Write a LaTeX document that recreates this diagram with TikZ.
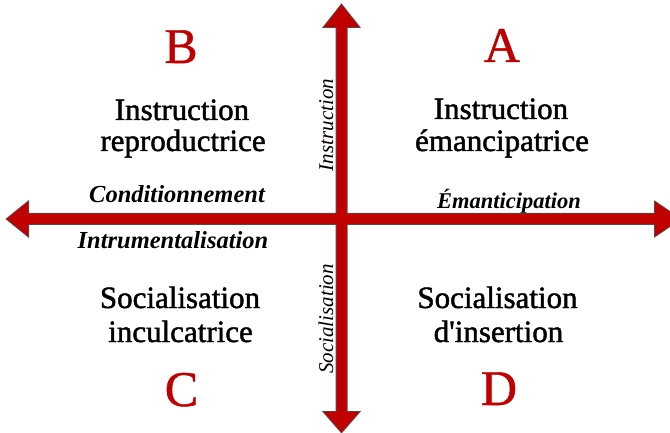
\documentclass[tikz,border=0pt]{standalone}
\usepackage{fontspec}
\setmainfont{Liberation Serif}[Ligatures=TeXOff]
\newcommand\heavytxt[1]{\special{pdf:literal 2 Tr 0.45 w}#1\special{pdf:literal 0 Tr}}
\definecolor{arrowred}{HTML}{C00000}
\definecolor{arrowedge}{HTML}{5E4646}
\begin{document}
\begin{tikzpicture}[x=1pt,y=-1pt,
  bigletter/.style={text=arrowred,inner sep=0pt,anchor=base,font=\fontsize{50}{50}\selectfont},
  maintext/.style={inner sep=0pt,anchor=base,font=\fontsize{31}{31}\selectfont},
  axislabel/.style={inner sep=0pt,anchor=base,font=\fontsize{24.5}{24.5}\selectfont\bfseries\itshape},
  vlabel/.style={inner sep=0pt,anchor=base,rotate=90,font=\fontsize{21}{21}\selectfont\itshape},
  arrowshape/.style={fill=arrowred,draw=arrowedge,line width=2pt,line join=miter},
  arrowfill/.style={fill=arrowred}]
\useasboundingbox (0,0) rectangle (670,433);
\clip (0,0) rectangle (670,433);
% arrows
\def\harrow{(7,219) -- (28,202) -- (28,214) -- (655,214) -- (655,202) -- (680,219) -- (655,236) -- (655,224) -- (28,224) -- (28,236) -- cycle}
\def\varrow{(341.5,5) -- (359,27) -- (346.5,27) -- (346.5,412) -- (359,412) -- (341.5,432) -- (324,412) -- (336.5,412) -- (336.5,27) -- (324,27) -- cycle}
\path[arrowshape] \harrow;
\path[arrowshape] \varrow;
\path[arrowfill] \harrow;
\path[arrowfill] \varrow;
% letters
\node[bigletter] (B) at (181,63) {\heavytxt{B}};
\node[bigletter] (A) at (502,62) {\heavytxt{A}};
\node[bigletter] (C) at (181.5,406) {\heavytxt{C}};
\node[bigletter] (D) at (499,405) {\heavytxt{D}};
% quadrant texts
\node[maintext] (b1) at (182,120) {\heavytxt{Instruction}};
\node[maintext] (b2) at (183,151) {\heavytxt{reproductrice}};
\node[maintext] (a1) at (501,119) {\heavytxt{Instruction}};
\node[maintext] (a2) at (502,151) {\heavytxt{émancipatrice}};
\node[maintext] (c1) at (180,308) {\heavytxt{Socialisation}};
\node[maintext] (c2) at (180.5,342) {\heavytxt{inculcatrice}};
\node[maintext] (d1) at (497.5,308) {\heavytxt{Socialisation}};
\node[maintext] (d2) at (498.5,342) {\heavytxt{d'insertion}};
% axis labels
\node[axislabel] (cond) at (177,203) {Conditionnement};
\node[axislabel] (intr) at (173,248) {Intrumentalisation};
\node[axislabel,font=\fontsize{22.5}{22.5}\selectfont\bfseries\itshape] (eman) at (509,208) {Émanticipation};
\node[vlabel] (instr) at (333,125) {Instruction};
\node[vlabel] (soc) at (333,319) {Socialisation};
\end{tikzpicture}
\end{document}
